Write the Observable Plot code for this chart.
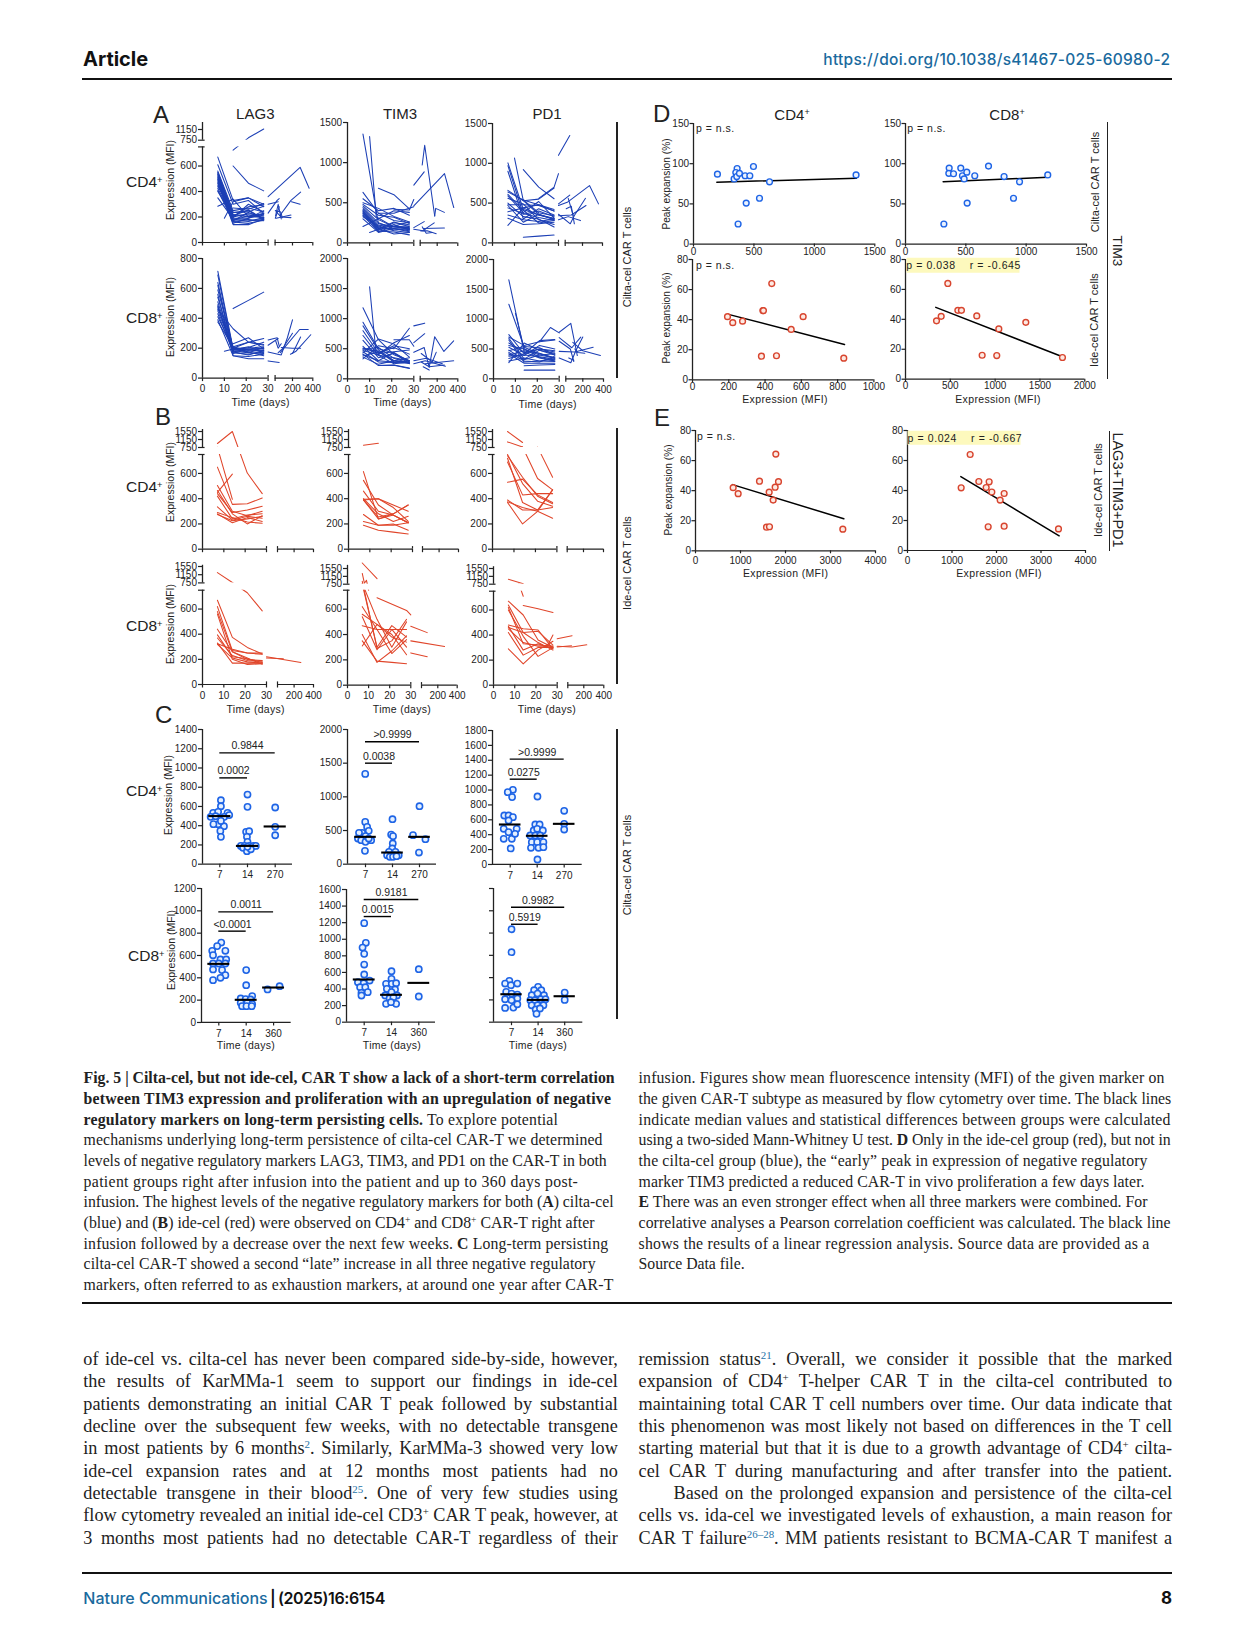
<!DOCTYPE html>
<html><head><meta charset="utf-8">
<script src="https://cdn.jsdelivr.net/npm/d3@7"></script>
<script src="https://cdn.jsdelivr.net/npm/@observablehq/plot@0.6"></script>
<style>
html,body{margin:0;background:#fff}
#page{position:relative;width:1241px;height:1648px;overflow:hidden;background:#fff}
#page svg{position:absolute;overflow:visible;background:transparent}
.t{position:absolute;white-space:nowrap;font-family:"Liberation Sans",Arial,sans-serif;color:#222;line-height:1}
sup{font-size:.6em;vertical-align:.5em;line-height:0}
.ref{color:#1f73a8}
</style></head><body><div id="page"></div>
<script>
// ---------- DATA: panel A/B time courses (days 7,14,21,28), odd paths, late paths ----------
const days=[7,14,21,28];
const aCd4Lag3=[[670,330,350,300],[610,300,330,225],[560,250,270,240],[550,235,240,285],[545,220,200,200],[535,210,255,185],[530,200,225,210],[520,195,300,240],[510,190,190,250],[500,175,180,170],[495,170,235,190],[485,160,150,175],[475,150,190,225],[465,140,140,185],[450,215,215,195],[440,235,250,180],[425,180,205,220],[410,165,170,180],[400,205,280,295],[350,185,165,195],[285,340,200,230],[null,600,465,405],[null,725,840,1170]];
const aCd4Lag3Odd=[[[10,190],[14,320],[21,350],[28,280]],[[14,270],[21,260],[28,305]]];
const aCd4Lag3Late=[[[30,360],[275,590],[364,425]],[[30,230],[50,330],[70,345]],[[30,300],[60,320]],[[32,190],[70,280]],[[35,210],[60,300],[90,185]],[[40,240],[90,200],[185,195]],[[40,190],[185,215]],[[75,210],[185,330],[280,395]],[[190,320],[275,300]],[[32,250],[85,240],[100,195]]];
const aCd4Tim3=[[1355,240,200,190],[630,370,280,250],[550,400,430,345],[500,430,330,260],[480,345,320,240],[460,290,200,180],[440,250,180,170],[420,220,200,210],[405,200,150,130],[395,175,260,200],[385,160,230,160],[375,150,135,100],[365,190,175,150],[350,180,110,130],[340,140,210,260],[325,210,160,175],[300,130,180,140],[205,300,400,380],[null,680,600,425]];
const aCd4Tim3Odd=[[[10,1325],[13,325],[21,200],[28,170]],[[10,130],[14,170],[21,250],[28,225]],[[21,420],[28,410],[30,540]],[[14,370],[21,370],[30,450]]];
const aCd4Tim3Late=[[[30,460],[271,864],[361,440]],[[30,720],[70,885]],[[50,970],[75,1217],[175,335]],[[175,335],[185,430],[270,380]],[[30,190],[70,265]],[[30,170],[60,150],[100,190],[170,250]],[[35,150],[100,150],[190,115]],[[60,180],[270,185]],[[50,200],[90,120],[150,130]]];
const aCd4Pd1=[[1005,420,350,300],[970,360,400,330],[900,300,430,350],[660,530,550,690],[640,540,380,340],[610,410,250,280],[590,380,520,310],[560,490,290,230],[480,480,470,400],[470,260,360,290],[440,370,320,280],[390,440,480,400],[350,290,270,300],[310,230,240,260],[220,440,350,310],[500,330,300,200],[null,920,700,555],[null,70,85,100]];
const aCd4Pd1Odd=[[[10,1065],[14,530],[21,360],[28,300]],[[21,560],[28,700],[30,870]],[[14,540],[28,420]]];
const aCd4Pd1Late=[[[30,1100],[75,1350]],[[30,490],[75,600]],[[30,470],[50,510],[270,720],[360,490]],[[30,290],[60,330],[180,280]],[[30,360],[80,240],[120,345],[230,560]],[[30,340],[90,350],[235,470]],[[60,560],[110,340]],[[40,430],[90,460],[120,240]]];
const aCd8Lag3=[[715,195,200,210],[690,185,180,190],[640,170,160,175],[620,180,190,200],[590,205,175,150],[560,150,130,130],[540,200,240,225],[510,190,210,170],[490,165,195,200],[480,180,170,165],[470,210,185,180],[460,330,240,220],[450,195,205,240],[430,175,155,185],[410,200,170,205],[390,150,145,160],[375,210,240,265],[null,465,520,575]];
const aCd8Lag3Odd=[[[10,180],[14,195],[21,190],[28,185]],[[14,230],[21,270],[28,195]]];
const aCd8Lag3Late=[[[30,255],[50,270],[70,215]],[[30,220],[60,265]],[[35,250],[60,200],[90,230]],[[30,175],[90,155],[150,270],[200,390]],[[30,115],[70,105]],[[80,170],[270,325],[355,325]],[[180,160],[235,180],[380,290]],[[200,165],[280,275]],[[90,205],[200,200],[280,200]],[[60,170],[100,195],[200,300]]];
const aCd8Tim3=[[1180,650,400,300],[940,500,430,250],[880,480,300,280],[800,430,520,410],[720,390,250,280],[640,350,420,300],[540,300,280,270],[510,430,550,500],[500,460,280,300],[490,520,340,260],[470,400,600,720],[450,280,270,260],[430,660,580,360],[410,220,230,180],[400,300,440,280],[380,450,300,260],[360,240,300,350],[330,550,500,840]];
const aCd8Tim3Odd=[[[10,1530],[13,400],[21,350],[28,300]],[[21,650],[28,650],[30,540]],[[14,220],[21,225],[28,170]],[[14,420],[28,480]]];
const aCd8Tim3Late=[[[30,600],[75,750]],[[30,880],[75,925]],[[30,440],[70,520],[120,190],[175,700],[265,455],[360,630]],[[30,300],[90,340],[250,250]],[[30,250],[80,300],[280,210]],[[40,280],[120,200],[270,230]],[[40,420],[150,280],[190,440]],[[60,200],[120,145]],[[80,250],[360,300]]];
const aCd8Pd1=[[1660,450,350,300],[1250,530,420,350],[740,420,640,660],[700,560,620,650],[680,330,480,430],[650,280,300,330],[600,440,500,470],[560,500,360,300],[530,390,560,500],[480,320,400,420],[470,540,520,400],[440,300,280,380],[420,260,260,260],[400,470,430,350],[380,400,370,330],[340,420,500,450],[300,350,300,290],[270,600,480,400]];
const aCd8Pd1Odd=[[[10,1100],[14,500],[21,400],[28,350]],[[14,145],[28,145]],[[21,620],[26,860],[30,770]],[[14,220],[21,230],[28,240]]];
const aCd8Pd1Late=[[[30,780],[80,930],[145,390]],[[30,690],[90,520],[180,700]],[[30,630],[75,500],[110,290]],[[30,460],[120,450],[300,530]],[[30,350],[80,270],[130,470],[200,700]],[[60,350],[110,310]],[[100,610],[200,470],[370,390]],[[120,500],[150,440],[220,430]]];

const bCd4Lag3=[[950,1550,603,440],[760,395,null,null],[650,355,360,405],[450,595,null,null],[505,300,265,300],[465,280,200,265],[440,290,310,340],[420,240,270,280],[335,230,260,245],[290,250,215,205],[280,210,250,220],[275,225,240,260]];
const bCd4Tim3=[[865,965,null,null],[615,240,280,350],[545,350,270,210],[460,300,270,210],[395,400,330,220],[390,400,350,300],[390,255,280,350],[275,190,190,210],[220,190,200,150],[190,150,135,120],[390,240,270,210],[400,280,220,260]];
const bCd4Pd1=[[1550,1000,null,null],[1030,780,null,null],[740,570,420,360],[720,370,310,470],[690,430,440,440],[750,520,380,340],[530,555,430,370],[390,310,310,330],[370,200,300,470],[375,330,300,245],[null,null,770,570],[null,780,560,470]];
const bCd8Lag3=[[1250,770,730,585],[670,375,295,242],[620,270,250,240],[580,260,200,190],[560,200,160,165],[440,260,210,160],[395,220,205,175],[370,230,190,185],[330,170,170,170],[325,280,250,250],[320,210,180,170]];
const bCd8Lag3Late=[[[30,220],[270,175]],[[30,210],[90,205]]];
const bCd8Tim3=[[1830,1030,null,null],[900,290,350,520],[620,440,250,360],[560,480,380,340],[470,440,440,440],[400,180,270,390],[350,190,180,170],[310,480,400,240],[540,280,440,300],[760,300,470,380],[800,520,300,500]];
const bCd8Tim3Odd=[[[7,1300],[8,800],[9,950],[10,750]],[[14,690],[28,590],[30,555]]];
const bCd8Tim3Late=[[[30,465],[90,415]],[[30,350],[270,305]],[[30,255],[90,225]]];
const bCd8Pd1=[[1000,770,null,null],[null,635,610,580],[670,560,360,300],[640,420,340,280],[620,330,320,310],[480,450,440,290],[460,420,430,320],[450,340,310,310],[420,240,300,300],[290,170,280,350],[470,280,330,290],[600,390,230,300]];
const bCd8Pd1Odd=[[[12,755],[14,710]],[[25,300],[28,400]]];
const bCd8Pd1Late=[[[30,370],[75,395]],[[30,310],[75,305],[230,322]],[[30,305],[70,315]]];

// ---------- DATA: panel C, [category offset, MFI] per day group ----------
const cCd4Lag3=[[[.04,665],[.04,603],[-.24,534],[-.06,544],[.28,534],[-.33,492],[-.15,499],[.16,492],[.34,510],[-.06,416],[-.23,416],[.15,395],[.02,346],[.04,284],[.04,450]],
 [[0,724],[0,596],[-.05,336],[.06,343],[-.02,284],[0,232],[-.24,190],[-.1,190],[.06,190],[.22,190],[.3,190],[-.16,170],[-.02,135],[.12,155],[0,180]],
 [[0,589],[0,388],[0,301]]];
const cCd4Tim3=[[[-.01,1341],[-.01,628],[.06,554],[-.12,465],[.12,495],[-.24,465],[0,416],[-.28,381],[-.16,356],[0,332],[.21,356],[-.02,198],[.12,381]],
 [[0,668],[-.05,440],[.02,416],[.01,307],[-.01,233],[-.13,183],[.11,183],[-.2,134],[-.05,134],[.07,134],[.23,134],[-.1,109],[.02,109],[.15,119]],
 [[0,861],[-.24,431],[.22,371],[-.02,173]]];
const cCd4Pd1=[[[.1,1003],[-.09,972],[.07,905],[-.22,658],[-.06,658],[.1,636],[-.06,591],[-.24,479],[-.06,434],[.24,479],[-.24,345],[.06,345],[.02,215],[.18,412]],
 [[.01,913],[-.07,537],[.09,537],[-.13,457],[0,479],[.21,457],[-.26,390],[-.07,390],[.11,390],[-.2,300],[0,300],[.23,300],[-.23,224],[.05,224],[.23,233],[.01,67]],
 [[0,721],[0,546],[0,470]]];
const cCd8Lag3=[[[.09,716],[-.06,684],[-.24,642],[.24,642],[-.21,603],[.06,564],[.27,564],[-.21,528],[0,528],[.24,528],[-.21,475],[.12,469],[.24,424],[.06,400],[-.21,379]],
 [[0,469],[0,334],[.22,236],[-.2,215],[-.02,209],[.16,206],[-.2,176],[.04,176],[.22,164],[-.15,146],[.01,146],[.2,146]],
 [[-.22,296],[.22,325]]];
const cCd8Tim3=[[[0,1194],[.06,957],[-.06,900],[0,824],[0,695],[0,575],[-.23,482],[-.02,470],[.2,502],[-.15,422],[.04,422],[-.1,354],[.13,362],[-.1,322]],
 [[0,615],[0,523],[-.2,462],[.01,462],[.17,470],[-.17,402],[.13,394],[0,362],[-.23,322],[.2,322],[-.07,289],[.07,302],[-.2,221],[.17,221],[-.02,241]],
 [[0,639],[0,310]]];
const cCd8Pd1=[[[0,834],[0,628],[-.08,371],[-.24,347],[.22,347],[-.02,332],[-.2,272],[0,257],[.22,248],[-.24,206],[.22,212],[0,197],[-.24,128],[.07,131],[.22,161]],
 [[0,317],[-.15,287],[.12,287],[-.24,242],[-.02,257],[.22,242],[-.29,197],[-.12,197],[.1,206],[.28,206],[-.24,152],[-.02,152],[.2,152],[-.09,114],[.07,123],[-.06,75]],
 [[0,266],[0,200]]];
const cMedians={cd4Lag3:[500,190,392],cd4Tim3:[406,173,406],cd4Pd1:[537,385,546],cd8Lag3:[525,203,313],cd8Tim3:[515,330,474],cd8Pd1:[251,200,233]};
const cPvalues={cd4Lag3:[["0.0002",897],["0.9844",1157]],cd4Tim3:[["0.0038",1500],[">0.9999",1817]],cd4Pd1:[["0.0275",1146],[">0.9999",1415]],cd8Lag3:[["<0.0001",818],["0.0011",991]],cd8Tim3:[["0.0015",1274],["0.9181",1479]],cd8Pd1:[["0.5919",879],["0.9982",1032]]};

// ---------- DATA: panels D/E, [expression, peak expansion] ----------
const dCiltaCd4=[[198,87],[336,81],[361,94],[350,89],[358,84],[380,88],[427,85],[466,85],[496,96.5],[546,57],[436,51],[369,25],[629,77.5],[1345,86]];
const dCiltaCd4Fit=[[193,77],[1348,82]];
const dCiltaCd8=[[362,94.5],[359,88],[398,87.5],[458,94.5],[472,85],[486,81],[508,89.5],[511,51],[574,85],[688,97],[817,84],[895,57],[945,77.5],[1179,86],[318,25]];
const dCiltaCd8Fit=[[312,77.5],[1179,83]];
const dIdeCd4=[[193,42],[222,38],[276,39],[388,46],[391,46],[437,64],[544,33.5],[610,42],[380,15.7],[463,16],[834,14.4]];
const dIdeCd4Fit=[[198,43.5],[838,23.5]];
const dIdeCd8=[[346,39],[398,42],[472,64],[584,46],[624,46],[795,42.3],[1041,33.6],[1342,38],[855,16],[1018,15.8],[1751,14.5]];
const dIdeCd8Fit=[[338,48],[1751,15]];
const eIdeCd4=[[837,42],[948,38],[1422,46.3],[1785,64.3],[1844,46],[1770,42.3],[1637,39],[1726,33.7],[1578,15.7],[1644,16],[3274,14.4]];
const eIdeCd4Fit=[[822,44],[3296,21.3]];
const eIdeCd8=[[1206,41.8],[1408,64],[1603,46],[1835,45.8],[1768,42],[1895,39],[2172,38],[2082,33.6],[1813,15.8],[2172,16.2],[3393,14.4]];
const eIdeCd8Fit=[[1198,49.3],[3408,9.8]];

// ---------- DATA: page text ----------
const captionLeft=[
 ['<b>Fig. 5 | Cilta-cel, but not ide-cel, CAR T show a lack of a short-term correlation</b>',531],
 ['<b>between TIM3 expression and proliferation with an upregulation of negative</b>',527.5],
 ['<b>regulatory markers on long-term persisting cells.</b> To explore potential',474.6],
 ['mechanisms underlying long-term persistence of cilta-cel CAR-T we determined',519],
 ['levels of negative regulatory markers LAG3, TIM3, and PD1 on the CAR-T in both',523],
 ['patient groups right after infusion into the patient and up to 360 days post-',494.6],
 ['infusion. The highest levels of the negative regulatory markers for both (<b>A</b>) cilta-cel',530],
 ['(blue) and (<b>B</b>) ide-cel (red) were observed on CD4<sup>+</sup> and CD8<sup>+</sup> CAR-T right after',511],
 ['infusion followed by a decrease over the next few weeks. <b>C</b> Long-term persisting',524.6],
 ['cilta-cel CAR-T showed a second “late” increase in all three negative regulatory',512],
 ['markers, often referred to as exhaustion markers, at around one year after CAR-T',530]];
const captionRight=[
 ['infusion. Figures show mean fluorescence intensity (MFI) of the given marker on',526],
 ['the given CAR-T subtype as measured by flow cytometry over time. The black lines',532.6],
 ['indicate median values and statistical differences between groups were calculated',532],
 ['using a two-sided Mann-Whitney U test. <b>D</b> Only in the ide-cel group (red), but not in',532],
 ['the cilta-cel group (blue), the “early” peak in expression of negative regulatory',509],
 ['marker TIM3 predicted a reduced CAR-T in vivo proliferation a few days later.',506],
 ['<b>E</b> There was an even stronger effect when all three markers were combined. For',509],
 ['correlative analyses a Pearson correlation coefficient was calculated. The black line',532],
 ['shows the results of a linear regression analysis. Source data are provided as a',511],
 ['Source Data file.',106]];
const bodyLeft=[
 'of ide-cel vs. cilta-cel has never been compared side-by-side, however,',
 'the results of KarMMa-1 seem to support our findings in ide-cel',
 'patients demonstrating an initial CAR T peak followed by substantial',
 'decline over the subsequent few weeks, with no detectable transgene',
 'in most patients by 6 months<sup class="ref">2</sup>. Similarly, KarMMa-3 showed very low',
 'ide-cel expansion rates and at 12 months most patients had no',
 'detectable transgene in their blood<sup class="ref">25</sup>. One of very few studies using',
 'flow cytometry revealed an initial ide-cel CD3<sup>+</sup> CAR T peak, however, at',
 '3 months most patients had no detectable CAR-T regardless of their'];
const bodyRight=[
 'remission status<sup class="ref">21</sup>. Overall, we consider it possible that the marked',
 'expansion of CD4<sup>+</sup> T-helper CAR T in the cilta-cel contributed to',
 'maintaining total CAR T cell numbers over time. Our data indicate that',
 'this phenomenon was most likely not based on differences in the T cell',
 'starting material but that it is due to a growth advantage of CD4<sup>+</sup> cilta-',
 'cel CAR T during manufacturing and after transfer into the patient.',
 'Based on the prolonged expansion and persistence of the cilta-cel',
 'cells vs. ida-cel we investigated levels of exhaustion, a main reason for',
 'CAR T failure<sup class="ref">26–28</sup>. MM patients resistant to BCMA-CAR T manifest a'];

// ---------- helpers ----------
const page=document.getElementById("page");
const BLUE="#1c3fb5",RED="#e0452a",DOTB="#1e64e6",DOTR="#d8452f",INK="#222";
function label(cx,cy,html,{size=10.5,rot=0,weight=400,color=INK,align="center",spacing=0,bg=null,w=null}={}){
  const d=document.createElement("div");d.className="t";d.innerHTML=html;
  d.style.cssText+=`left:${cx}px;top:${cy}px;font-size:${size}px;font-weight:${weight};color:${color};letter-spacing:${spacing}px;`;
  const tx=align==="center"?"-50%":align==="left"?"0":"-100%";
  d.style.transform=`translate(${tx},-50%) rotate(${rot}deg)`;
  if(bg){d.style.background=bg;d.style.padding="2px 0";d.style.textAlign="center";}
  if(w)d.style.width=w+"px";
  page.appendChild(d);return d;
}
function fitted(x,y,html,target,{family='"Liberation Serif",serif',size=15.8,words=false,color="#222",weight=400}={}){
  const d=label(x,y,html,{size,align:"left",color,weight});d.style.fontFamily=family;
  const w=d.getBoundingClientRect().width,txt=d.textContent;
  if(words){const n=(txt.match(/ /g)||[]).length;d.style.wordSpacing=((target-w)/Math.max(n,1))+"px";}
  else d.style.letterSpacing=((target-w)/txt.length)+"px";
  return d;
}
function hline(x1,x2,y,h=1.6,color="#111"){const d=document.createElement("div");d.style.cssText=`position:absolute;left:${x1}px;top:${y-h/2}px;width:${x2-x1}px;height:${h}px;background:${color}`;page.appendChild(d);}
function vline(x,y1,y2,w=1.3,color="#222"){const d=document.createElement("div");d.style.cssText=`position:absolute;left:${x-w/2}px;top:${y1}px;width:${w}px;height:${y2-y1}px;background:${color}`;page.appendChild(d);}
function mount(p,L,T){p.style.left=L+"px";p.style.top=T+"px";page.appendChild(p);}
const fontStyle={fontFamily:'"Liberation Sans",Arial,sans-serif',fontSize:"10px",background:"transparent",overflow:"visible"};
function toRows(reg,odd=[],late=[]){
  const rows=[];let id=0;
  reg.forEach(s=>{id++;s.forEach((v,i)=>{if(v!==null)rows.push({id,t:days[i],v});});});
  [...odd,...late].forEach(s=>{id++;s.forEach(([t,v])=>rows.push({id,t,v}));});
  return rows;
}
const AX={stroke:INK,strokeWidth:1.2};
function timePanel(g,rows,color,showX){
  const mL=45,mT=14,mB=24,mR=16;
  const yTop=Math.min(...g.yr)-(g.broken?g.upPx:0);
  const L=g.ax-mL,T=yTop-mT,W=g.x400-L+mR,H=g.yr[0]-T+mB;
  const perUnit=(g.yd[1]-g.yd[0])/(g.yr[0]-g.yr[1]);
  const capV=perUnit*2.6;
  const segs=g.broken?[[0,750],[751,g.top]]:[[0,g.yd[g.yd.length-1]]];
  const xT=[0,10,20,30,30.001,200,400];
  const marks=[Plot.line(rows,{x:"t",y:"v",z:"id",stroke:color,strokeWidth:1.05})];
  if(g.broken)marks.push(Plot.rect([0],{x1:0,x2:400,y1:750,y2:751,fill:"white"}));
  marks.push(
    Plot.ruleY([0],{x1:0,x2:30,...AX}),Plot.ruleY([0],{x1:30.001,x2:400,...AX}),
    Plot.ruleX([30,30.001],{y1:0,y2:capV,...AX}),
    Plot.ruleX(segs,{x:()=>0,y1:d=>d[0],y2:d=>d[1],strokeWidth:1.3,stroke:INK}),
    Plot.axisX({ticks:xT,anchor:"bottom",tickSize:3.5,tickPadding:3.5,label:null,fill:INK,...AX,
      tickFormat:d=>(!showX||d===30.001)?"":String(d)}),
    Plot.axisY({ticks:g.ticks,anchor:"left",tickSize:4,tickPadding:1.5,label:null,fill:INK,...AX,
      tickFormat:d=>d===750&&g.broken?"":d===751?"750":String(d)}));
  if(g.broken)marks.push(Plot.ruleY([750,751],{x1:0,x2:1.2,...AX}));
  const p=Plot.plot({width:W,height:H,marginLeft:mL,marginTop:mT,marginBottom:mB,marginRight:mR,style:fontStyle,
    x:{type:"linear",axis:null,domain:[0,30,30.001,200,400],range:[g.ax-L,g.x30-L,g.ls-L,g.x200-L,g.x400-L]},
    y:{type:"linear",axis:null,domain:g.yd,range:g.yr.map(v=>v-T)},
    marks});
  mount(p,L,T);
}
function dotPanel(g,groups,meds,pvals,cats,yTicks,showY=true){
  const mL=45,mT=24,mB=24,mR=8;
  const yTopPx=g.yr[1],L=g.ax-mL,T=yTopPx-mT,W=g.xEnd-L+mR,H=g.yr[0]-T+mB;
  const unit=g.c1-g.c0;
  const rows=groups.flatMap((gr,i)=>gr.map(([o,v])=>({x:i+o,v})));
  const barRows=meds.map((v,i)=>({a:i-.4,b:i+.4,v}));
  const brackets=pvals.map(([txt,v],i)=>({txt,v,a:0,b:i===0?1:2}));
  const p=Plot.plot({width:W,height:H,marginLeft:mL,marginTop:mT,marginBottom:mB,marginRight:mR,style:fontStyle,
    x:{type:"linear",axis:null,domain:[0,1],range:[g.c0-L,g.c1-L]},
    y:{type:"linear",axis:null,domain:[0,g.yTop],range:g.yr.map(v=>v-T)},
    marks:[
      Plot.dot(rows,{x:"x",y:"v",r:3.1,stroke:DOTB,strokeWidth:1.6,fill:"#e4f0ff"}),
      Plot.ruleY(barRows,{y:"v",x1:"a",x2:"b",stroke:"#000",strokeWidth:2.1}),
      Plot.ruleY(brackets,{y:"v",x1:"a",x2:"b",stroke:"#000",strokeWidth:1.4}),
      Plot.text(brackets,{x:d=>(d.a+d.b)/2,y:"v",text:"txt",dy:-7,fill:INK,fontSize:10.5}),
      Plot.ruleY([0],{x1:(g.ax-g.c0)/unit,x2:(g.xEnd-g.c0)/unit,...AX}),
      Plot.ruleX([(g.ax-g.c0)/unit],{y1:0,y2:g.yTop,strokeWidth:1.3,stroke:INK}),
      Plot.axisX({ticks:[0,1,2],anchor:"bottom",tickSize:3.5,tickPadding:3.5,label:null,fill:INK,...AX,tickFormat:d=>String(cats[d])}),
      Plot.axisY({ticks:yTicks,anchor:"left",tickSize:4,tickPadding:1.5,label:null,fill:INK,...AX,tickFormat:d=>showY?String(d):""})
    ]});
  mount(p,L,T);
}
function scatterPanel(g,pts,fit,color,xTicks,yTicks,pad){
  const mL=45,mT=10,mB=24,mR=25;
  const L=g.ax-mL,T=g.yr[1]-mT,W=g.xEnd-L+mR,H=g.yr[0]-T+mB;
  const p=Plot.plot({width:W,height:H,marginLeft:mL,marginTop:mT,marginBottom:mB,marginRight:mR,style:fontStyle,
    x:{type:"linear",axis:null,domain:[0,xTicks[xTicks.length-1]],range:[g.ax-L,g.xEnd-L]},
    y:{type:"linear",axis:null,domain:[0,yTicks[yTicks.length-1]],range:g.yr.map(v=>v-T)},
    marks:[
      Plot.line(fit,{x:d=>d[0],y:d=>d[1],stroke:"#000",strokeWidth:1.5}),
      Plot.dot(pts,{x:d=>d[0],y:d=>d[1],r:2.9,stroke:color,strokeWidth:1.4,fill:color===DOTB?"#eaf2ff":"#fde9e2"}),
      Plot.ruleY([0],{x1:0,x2:xTicks[xTicks.length-1],...AX}),
      Plot.ruleX([0],{y1:0,y2:yTicks[yTicks.length-1],strokeWidth:1.3,stroke:INK}),
      Plot.axisX({ticks:xTicks,anchor:"bottom",tickSize:3,tickPadding:pad,label:null,fill:INK,...AX,tickFormat:d=>String(d)}),
      Plot.axisY({ticks:yTicks,anchor:"left",tickSize:3.5,tickPadding:1,label:null,fill:INK,...AX,tickFormat:d=>String(d)})
    ]});
  mount(p,L,T);
}
const brk=[0,200,400,600,750,751,1150,1550];
const r=(a,b,s)=>d3.range(a,b+1,s);

// ---------- Panel A ----------
const colA=[{ax:201.7,x30:267.3,ls:274.3,x200:291.7,x400:312},{ax:347,x30:413.3,ls:419.7,x200:436.7,x400:457.3},{ax:492.3,x30:558.3,ls:565,x200:582.3,x400:602.3}];
timePanel({...colA[0],yd:[0,750,751,1150],yr:[242.3,146.7,140,129.3],broken:true,top:1412,upPx:7,ticks:[0,200,400,600,750,751,1150]},toRows(aCd4Lag3,aCd4Lag3Odd,aCd4Lag3Late),BLUE,false);
timePanel({...colA[1],yd:[0,1500],yr:[242.7,122.3],ticks:r(0,1500,500)},toRows(aCd4Tim3,aCd4Tim3Odd,aCd4Tim3Late),BLUE,false);
timePanel({...colA[2],yd:[0,1500],yr:[242.7,123.3],ticks:r(0,1500,500)},toRows(aCd4Pd1,aCd4Pd1Odd,aCd4Pd1Late),BLUE,false);
timePanel({...colA[0],yd:[0,800],yr:[377.3,257.7],ticks:r(0,800,200)},toRows(aCd8Lag3,aCd8Lag3Odd,aCd8Lag3Late),BLUE,true);
timePanel({...colA[1],yd:[0,2000],yr:[378,257.7],ticks:r(0,2000,500)},toRows(aCd8Tim3,aCd8Tim3Odd,aCd8Tim3Late),BLUE,true);
timePanel({...colA[2],ax:493,x30:558.7,ls:565.3,x200:582.3,x400:603,yd:[0,2000],yr:[378.3,259],ticks:r(0,2000,500)},toRows(aCd8Pd1,aCd8Pd1Odd,aCd8Pd1Late),BLUE,true);

// ---------- Panel B ----------
const colB=[{ax:201.7,x30:265.7,ls:276.7,x200:293.3,x400:312.7},{ax:347.7,x30:411.7,ls:421.7,x200:438.3,x400:457.7},{ax:492.3,x30:556.7,ls:567,x200:583.3,x400:603.3}];
const upB={broken:true,ticks:brk,upPx:2};
timePanel({...colB[0],...upB,yd:[0,750,751,1550],yr:[549,454.3,447.3,431.3],top:1650},toRows(bCd4Lag3),RED,false);
timePanel({...colB[1],...upB,yd:[0,750,751,1550],yr:[549,454.3,447.3,431.3],top:1650},toRows(bCd4Tim3),RED,false);
timePanel({...colB[2],...upB,yd:[0,750,751,1550],yr:[549,454.3,447.3,431.3],top:1650},toRows(bCd4Pd1),RED,false);
timePanel({...colB[0],...upB,yd:[0,750,751,1550],yr:[684.3,590,582.7,566.3],top:1610},toRows(bCd8Lag3,[],bCd8Lag3Late),RED,true);
timePanel({ax:347,x30:410.3,ls:421,x200:437.3,x400:456.7,...upB,yd:[0,750,751,1550],yr:[685,590,584,568.3],top:1710},toRows(bCd8Tim3,bCd8Tim3Odd,bCd8Tim3Late),RED,true);
timePanel({ax:493,x30:556.7,ls:567.3,x200:583.3,x400:603.3,...upB,yd:[0,750,751,1550],yr:[685,591,584,568.3],top:1640},toRows(bCd8Pd1,bCd8Pd1Odd,bCd8Pd1Late),RED,true);

// ---------- Panel C ----------
const cats270=[7,14,270],cats360=[7,14,360];
dotPanel({ax:201.7,c0:219,c1:246.7,xEnd:291.7,yr:[864,729.3],yTop:1400},cCd4Lag3,cMedians.cd4Lag3,cPvalues.cd4Lag3,cats270,r(0,1400,200));
dotPanel({ax:347,c0:365,c1:392,xEnd:436,yr:[864,729.3],yTop:2000},cCd4Tim3,cMedians.cd4Tim3,cPvalues.cd4Tim3,cats270,r(0,2000,500));
dotPanel({ax:492.3,c0:510,c1:537,xEnd:582,yr:[864,730],yTop:1800},cCd4Pd1,cMedians.cd4Pd1,cPvalues.cd4Pd1,cats270,r(0,1800,200));
dotPanel({ax:201,c0:218.3,c1:245.7,xEnd:290.7,yr:[1022.3,888.3],yTop:1200},cCd8Lag3,cMedians.cd8Lag3,cPvalues.cd8Lag3,cats360,r(0,1200,200));
dotPanel({ax:346.3,c0:364,c1:391.3,xEnd:435.3,yr:[1021.7,889],yTop:1600},cCd8Tim3,cMedians.cd8Tim3,cPvalues.cd8Tim3,cats360,r(0,1600,200));
dotPanel({ax:492.7,c0:510.7,c1:537.3,xEnd:582,yr:[1022,888.3],yTop:1200},cCd8Pd1,cMedians.cd8Pd1,cPvalues.cd8Pd1,cats360,r(0,1200,200),false);

// ---------- Panels D/E ----------
scatterPanel({ax:693,xEnd:874.3,yr:[243.3,122.7]},dCiltaCd4,dCiltaCd4Fit,DOTB,r(0,1500,500),r(0,150,50),1);
scatterPanel({ax:905.3,xEnd:1086.3,yr:[243.3,122.7]},dCiltaCd8,dCiltaCd8Fit,DOTB,r(0,1500,500),r(0,150,50),1);
scatterPanel({ax:692.3,xEnd:873.7,yr:[379,258.7]},dIdeCd4,dIdeCd4Fit,DOTR,r(0,1000,200),r(0,80,20),0);
scatterPanel({ax:904.7,xEnd:1084,yr:[379,259.3]},dIdeCd8,dIdeCd8Fit,DOTR,r(0,2000,500),r(0,80,20),0);
scatterPanel({ax:695,xEnd:875,yr:[550,429.7]},eIdeCd4,eIdeCd4Fit,DOTR,r(0,4000,1000),r(0,80,20),3);
scatterPanel({ax:907.3,xEnd:1085.3,yr:[550,430]},eIdeCd8,eIdeCd8Fit,DOTR,r(0,4000,1000),r(0,80,20),3);

// ---------- Figure labels ----------
[["A",153,115],["B",155,417],["C",155,715],["D",653,114],["E",654,418]].forEach(([s,x,y])=>label(x,y,s,{size:24,align:"left"}));
[["LAG3",255.3],["TIM3",400],["PD1",547]].forEach(([s,x])=>label(x,112.7,s,{size:15}));
label(792,114,"CD4<sup>+</sup>",{size:15});label(1007,114,"CD8<sup>+</sup>",{size:15});
[["CD4",126,181.7],["CD8",126,317.7],["CD4",126,486.7],["CD8",126,625.7],["CD4",126,790.7],["CD8",128,956]].forEach(([s,x,y])=>label(x,y,s+"<sup>+</sup>",{size:15.5,align:"left"}));
const EX="Expression (MFI)",TD="Time (days)",PE="Peak expansion (%)";
[[170,180],[170,316.7],[170,482],[170,624],[168,795],[170.7,950]].forEach(([x,y])=>label(x,y,EX,{rot:-90,size:10.5}));
[[260.7,402],[402.3,402.3],[547.7,403.7],[255.7,709],[402,709],[547,709],[246,1045],[392,1045],[538,1045]].forEach(([x,y])=>label(x,y,TD,{size:10.5,spacing:.3}));
[[666.7,184],[666.7,318],[669,490]].forEach(([x,y])=>label(x,y,PE,{rot:-90,size:10.2}));
[[785,399.3],[998,399.3],[785.7,573],[999,573]].forEach(([x,y])=>label(x,y,EX,{size:10.5,spacing:.35}));
[[696,128.3],[907.3,128.3],[696,265.3],[697,436]].forEach(([x,y])=>label(x,y,"p = n.s.",{size:10.5,align:"left",spacing:.5}));
label(962.7,265.3,"p = 0.038&nbsp;&nbsp;&nbsp; r = -0.645",{size:10.5,spacing:.6,bg:"#fdf9bd",w:113});
label(964,437.7,"p = 0.024&nbsp;&nbsp;&nbsp; r = -0.667",{size:10.5,spacing:.6,bg:"#fdf9bd",w:113});
[[626.7,256.7,"Cilta-cel CAR T cells"],[626.7,563,"Ide-cel CAR T cells"],[626.7,865,"Cilta-cel CAR T cells"],[1095,181.7,"Cilta-cel CAR T cells"],[1094,320,"Ide-cel CAR T cells"],[1097.7,490,"Ide-cel CAR T cells"]].forEach(([x,y,s])=>label(x,y,s,{rot:-90,size:11}));
label(1116.7,251,"TIM3",{rot:90,size:13.5});label(1117.7,490,"LAG3+TIM3+PD1",{rot:90,size:14.5});
vline(617,122.3,378);vline(617,428,684);vline(617,729,1019);vline(1107.7,122,379);vline(1109.3,430.7,550.7);

// ---------- Page furniture ----------
const SANS='Inter,"Liberation Sans",sans-serif';
fitted(83,59,"Article",65,{family:SANS,size:20,weight:700,color:"#111"});
fitted(823.3,60,"https://doi.org/10.1038/s41467-025-60980-2",347,{family:SANS,size:15.5,weight:500,color:"#1a6a9e"});
hline(82.3,1172,79,1.8);
captionLeft.forEach(([h,w],i)=>fitted(83.6,1078.3+i*20.67,h,w));
captionRight.forEach(([h,w],i)=>fitted(638.6,1078.3+i*20.67,h,w));
hline(82.3,1172,1302.7,1.8);
bodyLeft.forEach((h,i)=>fitted(83.3,1359+i*22.35,h,534.5,{size:18.2,words:true}));
bodyRight.forEach((h,i)=>{const ind=i===6?35:0;fitted(638.6+ind,1359+i*22.35,h,533.5-ind,{size:18.2,words:true});});
hline(82.3,1172,1572.7,1.8);
fitted(83.3,1598,"Nature Communications",184.4,{family:SANS,size:16,weight:500,color:"#1a6a9e"});
fitted(270,1598,"|",3,{family:SANS,size:16,weight:600,color:"#111"});
fitted(278,1598,"(2025)16:6154",107,{family:SANS,size:16,weight:600,color:"#111"});
label(1172,1598,"8",{size:17,weight:700,align:"right",color:"#111"}).style.fontFamily=SANS;
</script></body></html>
